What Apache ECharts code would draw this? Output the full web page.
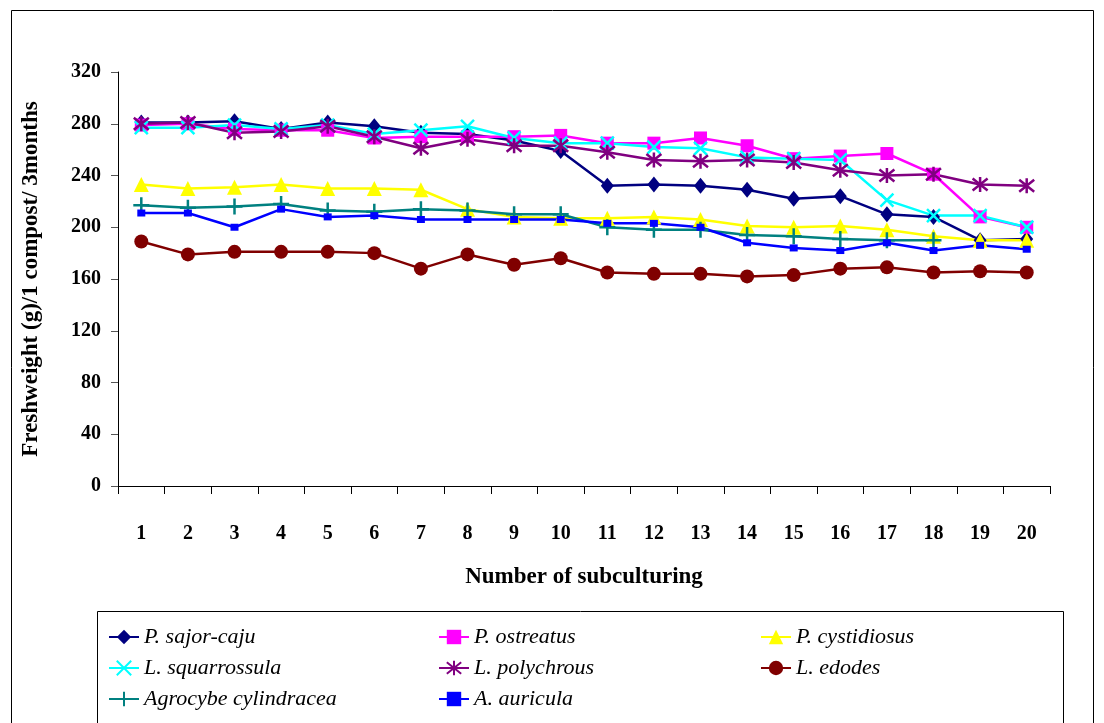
<!DOCTYPE html>
<html>
<head>
<meta charset="utf-8">
<script src="https://cdn.jsdelivr.net/npm/echarts@6/dist/echarts.min.js"></script>
<style>
html,body{margin:0;padding:0;background:#fff;}
#chart{width:1104px;height:723px;}
</style>
</head>
<body>
<div id="chart"></div>
<script>
const categories = ['1','2','3','4','5','6','7','8','9','10','11','12','13','14','15','16','17','18','19','20'];
const seriesNames = ['P. sajor-caju','P. ostreatus','P. cystidiosus','L. squarrossula','L. polychrous','L. edodes','Agrocybe cylindracea','A. auricula'];
const pSajorCaju   = [281,281,282,276,281,278,273,272,267,259,232,233,232,229,222,224,210,208,190,191];
const pOstreatus   = [279,280,276,275,275,269,270,270,270,271,265,265,269,263,253,255,257,241,208,200];
const pCystidiosus = [233,230,231,233,230,230,229,214,208,207,207,208,206,201,200,201,198,193,190,190];
const lSquarrossula= [277,277,279,276,279,272,275,278,269,265,265,262,261,254,253,252,221,209,209,200];
const lPolychrous  = [280,281,273,274,278,270,261,268,263,263,258,252,251,252,250,244,240,241,233,232];
const lEdodes      = [189,179,181,181,181,180,168,179,171,176,165,164,164,162,163,168,169,165,166,165];
const agrocybe     = [217,215,216,218,213,212,214,213,210,210,200,198,198,194,193,191,190,190,null,null];
const aAuricula    = [211,211,200,214,208,209,206,206,206,206,203,203,200,188,184,182,188,182,186,183];
const yTicks = {min:0, max:320, interval:40};

const allData = [pSajorCaju,pOstreatus,pCystidiosus,lSquarrossula,lPolychrous,lEdodes,agrocybe,aAuricula];
const colors = ['#000080','#FF00FF','#FFFF00','#00FFFF','#800080','#800000','#008080','#0000FF'];
const symbols = ['diamond','rect','triangle','path://M0,0L10,10M10,0L0,10','path://M1,1L9,9M9,1L1,9M5,0L5,10','circle','path://M5,0L5,10M0,5L10,5','rect'];
const symSizes = [[13,16],13,15,13,15,14,16,[8,7]];
const strokeSym = [false,false,false,true,true,false,true,false];

const font = '"Liberation Serif","Times New Roman",serif';

const series = seriesNames.map((n,i)=>({
  name:n, type:'line', data: allData[i],
  symbol: symbols[i], symbolSize: symSizes[i], showAllSymbol:true,
  lineStyle:{color:colors[i], width:2.5},
  itemStyle: strokeSym[i] ? {color:colors[i], borderColor:colors[i], borderWidth:2.5} : {color:colors[i], borderWidth:0},
  connectNulls:false, animation:false
}));

const legendCommon = {
  orient:'vertical', itemWidth:30, itemHeight:18, itemGap:9,
  textStyle:{fontFamily:font, fontStyle:'italic', fontSize:22, color:'#000'},
  selectedMode:false
};

const chart = echarts.init(document.getElementById('chart'));
chart.setOption({
  backgroundColor:'#fff',
  animation:false,
  grid:{left:118, top:72, right:54, bottom:237, containLabel:false},
  xAxis:{
    type:'category', data:categories, boundaryGap:true,
    axisLine:{lineStyle:{color:'#000', width:1}},
    axisTick:{show:true, inside:false, length:8, lineStyle:{color:'#000'}},
    axisLabel:{margin:38, fontFamily:font, fontWeight:'bold', fontSize:20, color:'#000'},
    name:'Number of subculturing', nameLocation:'middle', nameGap:80,
    nameTextStyle:{fontFamily:font, fontWeight:'bold', fontSize:23, color:'#000'}
  },
  yAxis:{
    type:'value', min:yTicks.min, max:yTicks.max, interval:yTicks.interval,
    splitLine:{show:false},
    axisLine:{show:true, lineStyle:{color:'#000', width:1}},
    axisTick:{show:true, length:7, lineStyle:{color:'#555'}},
    axisLabel:{margin:17, fontFamily:font, fontWeight:'bold', fontSize:20, color:'#000'},
    name:'Freshweight (g)/1 compost/ 3months', nameLocation:'middle', nameGap:75, nameRotate:90,
    nameTextStyle:{fontFamily:font, fontWeight:'bold', fontSize:23, color:'#000'}
  },
  legend:[
    Object.assign({left:103, top:621, data:[seriesNames[0],seriesNames[3],seriesNames[6]]}, legendCommon),
    Object.assign({left:433, top:621, data:[seriesNames[1],seriesNames[4],seriesNames[7]]}, legendCommon),
    Object.assign({left:755, top:621, data:[seriesNames[2],seriesNames[5]]}, legendCommon)
  ],
  graphic:[
    {type:'rect', shape:{x:11.5, y:10.5, width:1082, height:740}, style:{fill:'none', stroke:'#000', lineWidth:1}, silent:true},
    {type:'rect', shape:{x:97.5, y:611.5, width:966, height:140}, style:{fill:'none', stroke:'#000', lineWidth:1}, silent:true}
  ],
  series: series
});
</script>
</body>
</html>
